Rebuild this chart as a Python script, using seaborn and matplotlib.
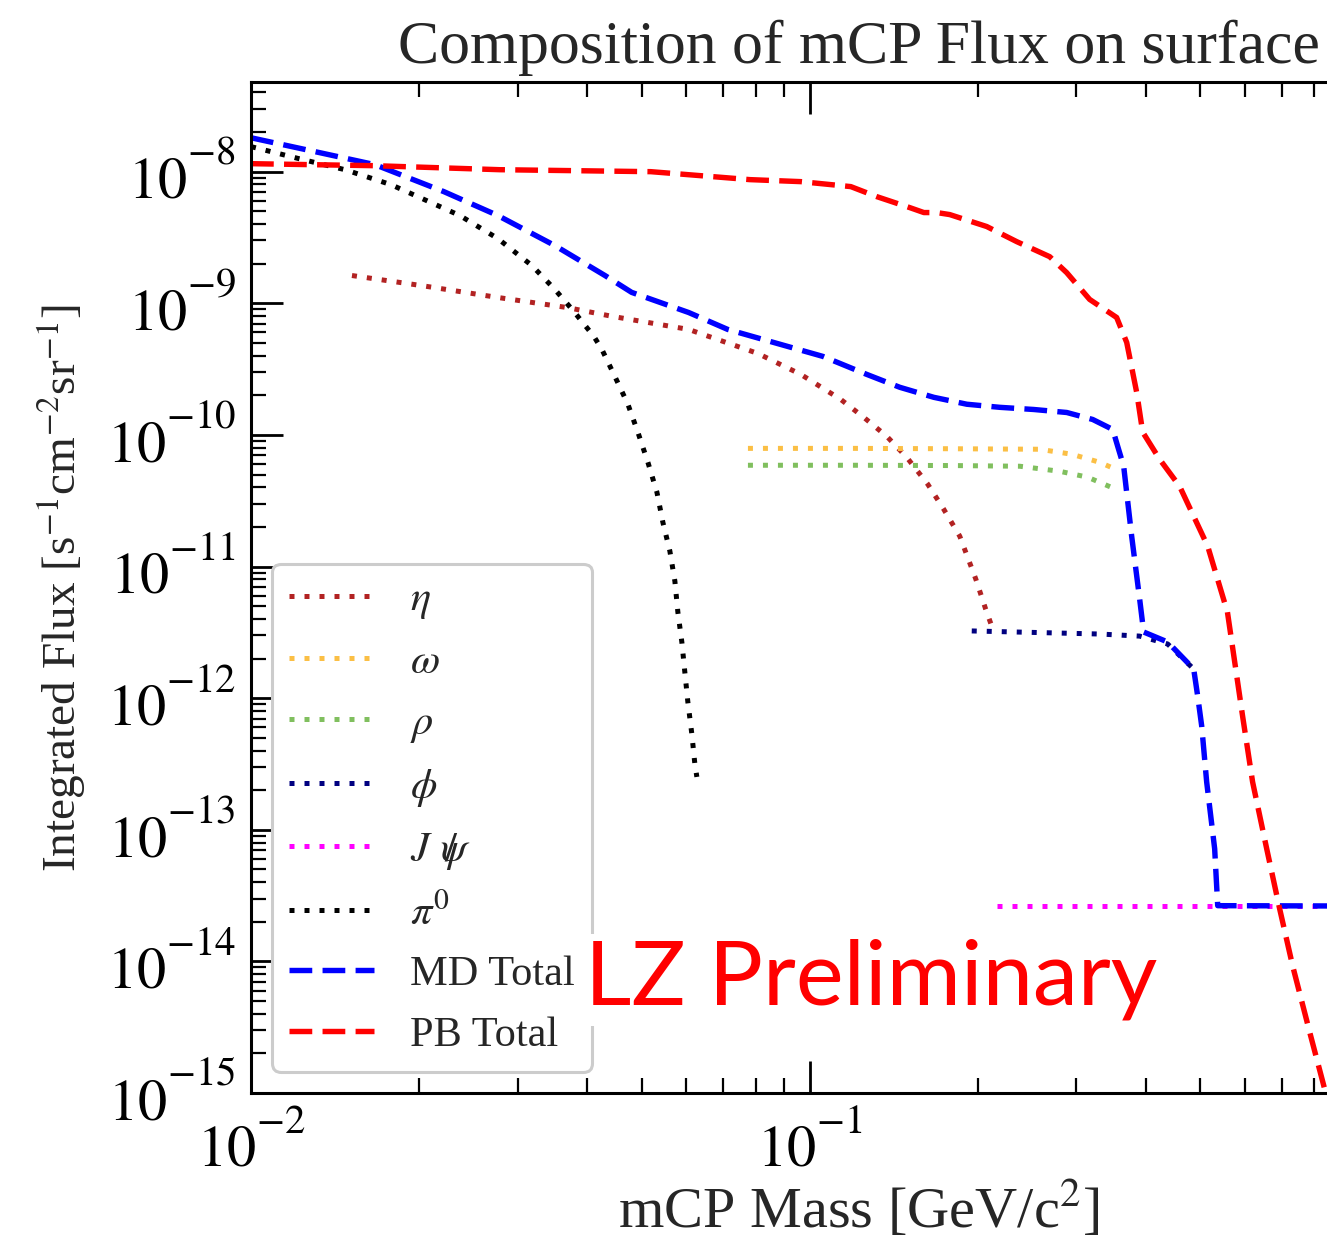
import math
import matplotlib
matplotlib.use("Agg")
import matplotlib.pyplot as plt
import matplotlib.ticker as mticker
import seaborn as sns

# ---------------- data ----------------
mass_eta = [0.01516, 0.02014, 0.02766, 0.03675, 0.04442, 0.0607, 0.0807, 0.0964,
            0.1136, 0.1249, 0.1373, 0.1491, 0.1626, 0.1736, 0.1855, 0.1982, 0.2064, 0.2116]
flux_eta = [1.625e-9, 1.365e-9, 1.107e-9, 9.29e-10, 7.94e-10, 6.33e-10, 4.16e-10, 2.88e-10,
            1.86e-10, 1.36e-10, 9.76e-11, 6.76e-11, 4.22e-11, 2.73e-11, 1.70e-11, 8.02e-12,
            4.75e-12, 3.53e-12]

mass_omega = [0.0775, 0.12, 0.18, 0.2578, 0.2943, 0.3303, 0.3527]
flux_omega = [7.9e-11, 7.9e-11, 7.85e-11, 7.78e-11, 7.13e-11, 6.19e-11, 5.48e-11]

mass_rho = [0.0775, 0.12, 0.18, 0.2376, 0.2801, 0.3143, 0.3527]
flux_rho = [5.88e-11, 5.88e-11, 5.85e-11, 5.78e-11, 5.29e-11, 4.77e-11, 3.87e-11]

mass_phi = [0.1949, 0.3303, 0.3893, 0.4369, 0.4864]
flux_phi = [3.24e-12, 3.07e-12, 2.96e-12, 2.58e-12, 1.665e-12]

mass_jpsi = [0.216, 1.5]
flux_jpsi = [2.62e-14, 2.62e-14]

mass_pi0 = [0.0100, 0.01219, 0.01473, 0.0178, 0.02082, 0.02365, 0.02766, 0.03182, 0.0350,
            0.03783, 0.04108, 0.04246, 0.04479, 0.04726, 0.04925, 0.05132, 0.05326, 0.05458,
            0.05618, 0.05735, 0.05806, 0.05902, 0.05975, 0.0605, 0.0615, 0.06227, 0.06279]
flux_pi0 = [1.55e-8, 1.255e-8, 1.035e-8, 7.97e-9, 5.92e-9, 4.64e-9, 3.10e-9, 1.935e-9, 1.27e-9,
            8.66e-10, 5.60e-10, 4.46e-10, 2.78e-10, 1.71e-10, 1.046e-10, 6.19e-11, 3.67e-11,
            2.17e-11, 1.31e-11, 7.75e-12, 4.51e-12, 2.67e-12, 1.58e-12, 9.36e-13, 5.35e-13,
            3.17e-13, 2.52e-13]

mass_md = [0.0100, 0.01667, 0.02214, 0.02766, 0.0350, 0.0430, 0.0480, 0.0607, 0.0713, 0.1055,
           0.1265, 0.1449, 0.1667, 0.1910, 0.2188, 0.2516, 0.2883, 0.3208, 0.3484, 0.3556,
           0.3645, 0.3767, 0.3893, 0.3958, 0.4369, 0.4864, 0.4944, 0.5027, 0.5131, 0.5303,
           0.5370, 1.5]
flux_md = [1.81e-8, 1.13e-8, 7.05e-9, 4.64e-9, 2.74e-9, 1.625e-9, 1.21e-9, 8.51e-10, 6.33e-10,
           3.95e-10, 2.88e-10, 2.30e-10, 1.93e-10, 1.71e-10, 1.62e-10, 1.56e-10, 1.48e-10,
           1.31e-10, 1.10e-10, 8.2e-11, 5.78e-11, 1.70e-11, 5.66e-12, 3.18e-12, 2.67e-12,
           1.665e-12, 1.04e-12, 6.15e-13, 2.31e-13, 7.17e-14, 2.65e-14, 2.62e-14]

mass_pb = [0.0100, 0.01667, 0.02788, 0.05193, 0.0781, 0.09636, 0.1184, 0.1318, 0.151, 0.160,
           0.1687, 0.178, 0.2073, 0.2346, 0.2687, 0.2882, 0.3168, 0.3541, 0.3691, 0.3846,
           0.3942, 0.4227, 0.459, 0.5152, 0.559, 0.595, 0.620, 0.657, 0.693, 0.731, 0.784,
           0.834, 0.859]
flux_pb = [1.15e-8, 1.11e-8, 1.035e-8, 1.0e-8, 8.7e-9, 8.4e-9, 7.7e-9, 6.46e-9, 5.33e-9,
           4.89e-9, 4.89e-9, 4.72e-9, 3.83e-9, 2.94e-9, 2.26e-9, 1.71e-9, 1.07e-9, 7.8e-10,
           5.04e-10, 2.10e-10, 1.05e-10, 6.53e-11, 4.07e-11, 1.43e-11, 4.5e-12, 7.3e-13,
           2.31e-13, 7.2e-14, 2.52e-14, 9.3e-15, 2.93e-15, 1.08e-15, 7.0e-16]

labels = [r"$\eta$", r"$\omega$", r"$\rho$", r"$\phi$", r"$J\ \,/\!\!\!\psi$", r"$\pi^0$",
          "MD Total", "PB Total"]
colors = ["#b22222", "#fbbf45", "#80bf5e", "#000080", "#ff00ff", "#000000", "#0000ff", "#ff0000"]

# ---------------- style ----------------
sns.set_style("ticks")
plt.rcParams["font.family"] = ["Liberation Serif", "DejaVu Serif"]
plt.rcParams["mathtext.fontset"] = "stix"
plt.rcParams["axes.unicode_minus"] = True

W, H = 1327, 1243
fig = plt.figure(figsize=(W / 100, H / 100), dpi=100)
ax = fig.add_axes([251 / W, 150 / H, 1216 / W, 1011 / H])
ax.set_xscale("log")
ax.set_yscale("log")

dotted = (0, (1, 2.0))
dashed = (0, (4.2, 1.9))
series = [
    (mass_eta, flux_eta, dotted, 3.6),
    (mass_omega, flux_omega, dotted, 3.6),
    (mass_rho, flux_rho, dotted, 3.6),
    (mass_phi, flux_phi, dotted, 3.6),
    (mass_jpsi, flux_jpsi, dotted, 3.6),
    (mass_pi0, flux_pi0, dotted, 3.6),
    (mass_md, flux_md, dashed, 3.9),
    (mass_pb, flux_pb, dashed, 3.9),
]
for (xs, ys, ls, lw), lab, col in zip(series, labels, colors):
    sns.lineplot(x=xs, y=ys, ax=ax, color=col, linestyle=ls, linewidth=lw,
                 label=lab, sort=False, estimator=None)

XMIN, XMAX = 0.01, 1.5
YMIN, YMAX = 1e-15, 4.8e-8
ax.set_xlim(XMIN, XMAX)
ax.set_ylim(YMIN, YMAX)


def pow_label(v):
    # "10" with a high-set exponent (like the LaTeX-rendered reference labels)
    e = int(round(math.log10(v)))
    return r"$10^{\genfrac{}{}{0}{0}{%d}{\ }}$" % e


def y_fmt(v, pos):
    if v < YMIN * 0.99 or v > YMAX:
        return ""
    return pow_label(v)


def x_fmt(v, pos):
    if v < XMIN * 0.99 or v > 0.5:
        return ""
    return pow_label(v)


ax.yaxis.set_major_formatter(mticker.FuncFormatter(y_fmt))
ax.xaxis.set_major_formatter(mticker.FuncFormatter(x_fmt))
ax.xaxis.set_minor_formatter(mticker.NullFormatter())
ax.yaxis.set_minor_formatter(mticker.NullFormatter())

ax.tick_params(which="both", direction="in", top=True, right=True, colors="black")
ax.tick_params(which="major", length=23, width=2.0, labelsize=42)
ax.tick_params(which="minor", length=11, width=1.6)
ax.tick_params(axis="y", which="major", pad=11)
ax.tick_params(axis="x", which="major", pad=14)
for s in ax.spines.values():
    s.set_linewidth(2.2)
    s.set_color("black")

ax.set_title("Composition of mCP Flux on surface", fontsize=44.5, pad=14)
ax.set_xlabel(r"mCP Mass [GeV/c$^2$]", fontsize=42, labelpad=0.5)
ax.set_ylabel(r"Integrated Flux [s$^{-1}$cm$^{-2}$sr$^{-1}$]", fontsize=34)
ax.yaxis.set_label_coords((88 - 251) / 1216, 0.5)

leg = ax.legend(loc="lower left", fontsize=30.5, handlelength=2.0, handletextpad=0.85,
                labelspacing=0.52, borderpad=0.4, borderaxespad=0.5, frameon=True,
                fancybox=True, edgecolor="0.8", framealpha=1.0)
leg.get_frame().set_linewidth(2.2)

fig.text(585 / W, 1 - 1005 / H, "LZ Preliminary", color="red", fontsize=65,
         family="Lato", ha="left", va="baseline", zorder=10,
         bbox=dict(facecolor="white", edgecolor="none", pad=4))

fig.savefig("out.png", dpi=100)
